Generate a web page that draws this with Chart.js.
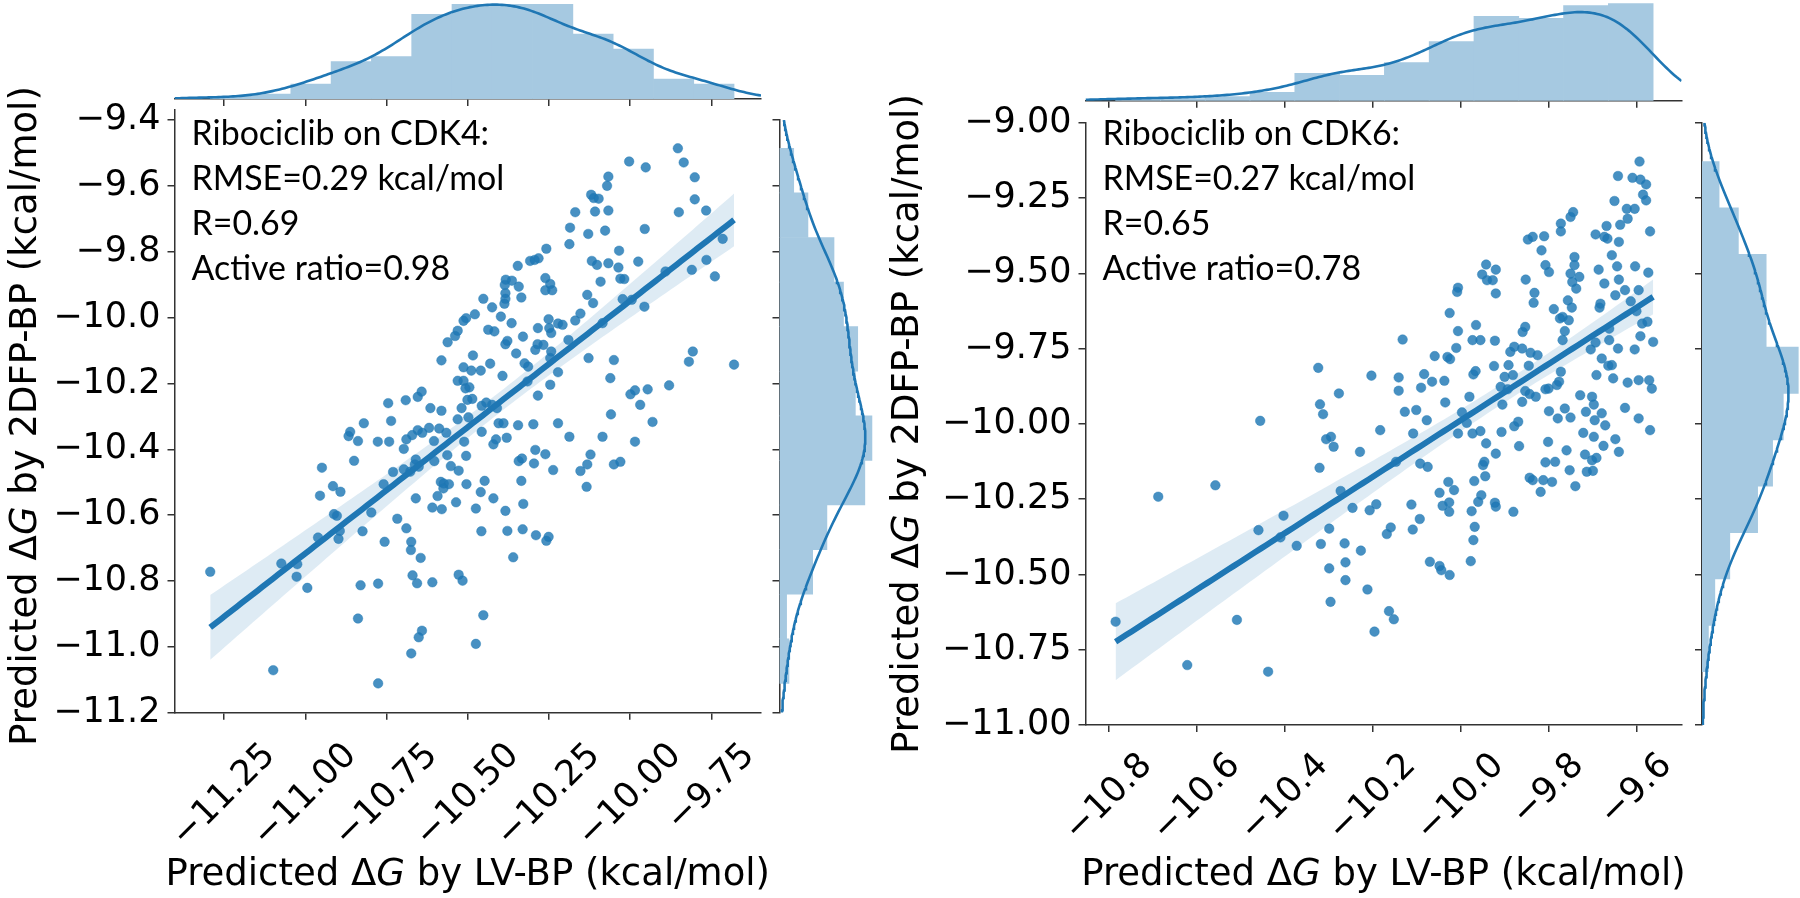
<!DOCTYPE html>
<html>
<head>
<meta charset="utf-8">
<script src="https://cdn.jsdelivr.net/npm/chart.js@4.4.1/dist/chart.umd.min.js"></script>
<style>
html,body{margin:0;padding:0;background:#fff;}
body{width:1800px;height:898px;position:relative;overflow:hidden;}
canvas{position:absolute;left:0;top:0;}
</style>
</head>
<body>
<canvas id="mainL" width="1800" height="898"></canvas>
<canvas id="topL" width="1800" height="898"></canvas>
<canvas id="sideL" width="1800" height="898"></canvas>
<canvas id="mainR" width="1800" height="898"></canvas>
<canvas id="topR" width="1800" height="898"></canvas>
<canvas id="sideR" width="1800" height="898"></canvas>
<script>
// CDK4 panel: predicted dG by LV-BP (x) vs 2DFP-BP (y)
const cdk4X=[
 -9.853,-10.003,-9.952,-9.835,-10.067,-10.071,-9.801,-10.120,-10.112,-10.097,
 -9.801,-10.169,-10.108,-10.067,-9.850,-9.766,-10.185,-10.129,-10.077,-9.955,
 -9.715,-10.187,-10.258,-10.282,-10.308,-10.294,-10.346,-10.034,-10.118,-10.102,
 -10.067,-10.036,-9.975,-9.765,-9.810,-9.739,-9.891,-10.383,-10.364,-10.386,
 -10.343,-10.261,-10.246,-10.261,-10.240,-10.091,-10.030,-10.018,-10.384,-10.335,
 -10.384,-10.387,-10.452,-10.425,-10.132,-10.114,-10.023,-9.995,-9.956,-10.478,
 -10.505,-10.513,-10.398,-10.251,-10.222,-10.208,-10.169,-10.153,-10.365,-10.437,
 -10.418,-10.284,-10.249,-10.243,-10.085,-10.531,-10.539,-10.562,-10.330,-10.378,
 -10.384,-10.190,-10.285,-10.267,-10.292,-10.243,-10.581,-10.484,-10.431,-10.351,
 -10.325,-10.314,-10.246,-10.128,-10.050,-9.807,-9.819,-9.680,-10.513,-10.489,
 -10.460,-10.393,-10.222,-10.531,-10.513,-10.507,-10.495,-10.316,-10.246,-10.061,
 -9.880,-9.985,-9.999,-9.946,-10.642,-10.654,-10.691,-10.745,-10.284,-10.501,
 -10.486,-10.615,-10.581,-10.519,-10.443,-10.425,-10.457,-10.410,-9.969,-10.059,
 -10.531,-10.498,-10.736,-10.820,-10.862,-10.867,-10.838,-10.777,-10.742,-10.654,
 -10.671,-10.640,-10.619,-10.588,-10.566,-10.689,-10.604,-10.697,-10.457,-10.405,
 -10.390,-10.345,-10.298,-10.222,-9.931,-10.413,-10.421,-10.380,-10.511,-10.187,
 -10.085,-9.985,-10.850,-10.660,-10.663,-10.651,-10.603,-10.563,-10.505,-10.552,
 -10.528,-10.343,-10.333,-10.296,-10.292,-10.261,-10.237,-10.153,-10.132,-10.122,
 -10.050,-10.030,-10.949,-10.730,-10.697,-10.677,-10.759,-10.915,-10.892,-10.955,
 -10.583,-10.574,-10.558,-10.575,-10.504,-10.448,-10.460,-10.421,-10.335,-10.134,
 -10.660,-10.593,-10.536,-10.609,-10.580,-10.475,-10.384,-10.329,-10.912,-10.903,
 -10.797,-10.717,-10.689,-10.824,-10.894,-10.961,-10.898,-10.756,-10.674,-10.675,
 -10.645,-10.458,-10.378,-10.331,-10.290,-10.251,-10.258,-10.360,-11.074,-11.025,
 -11.027,-10.994,-11.293,-10.830,-10.776,-10.670,-10.656,-10.609,-10.528,-10.516,
 -10.838,-10.452,-10.641,-10.651,-10.674,-10.475,-11.099,-10.776
];
const cdk4Y=[
 -9.486,-9.526,-9.544,-9.529,-9.572,-9.600,-9.574,-9.627,-9.637,-9.639,
 -9.641,-9.680,-9.678,-9.675,-9.680,-9.675,-9.727,-9.746,-9.736,-9.731,
 -9.761,-9.777,-9.791,-9.820,-9.828,-9.825,-9.843,-9.797,-9.828,-9.840,
 -9.835,-9.848,-9.830,-9.825,-9.855,-9.875,-9.860,-9.885,-9.888,-9.901,
 -9.906,-9.880,-9.898,-9.917,-9.917,-9.891,-9.882,-9.883,-9.926,-9.939,
 -9.943,-9.958,-9.943,-9.969,-9.931,-9.956,-9.944,-9.946,-9.967,-9.990,
 -10.002,-10.010,-9.997,-10.005,-10.018,-10.022,-10.009,-9.988,-10.017,-10.037,
 -10.042,-10.032,-10.032,-10.047,-10.017,-10.040,-10.056,-10.075,-10.058,-10.071,
 -10.081,-10.068,-10.081,-10.083,-10.098,-10.103,-10.130,-10.115,-10.140,-10.109,
 -10.139,-10.149,-10.123,-10.123,-10.129,-10.103,-10.134,-10.143,-10.151,-10.161,
 -10.161,-10.177,-10.166,-10.192,-10.192,-10.215,-10.212,-10.194,-10.204,-10.184,
 -10.206,-10.221,-10.233,-10.218,-10.225,-10.241,-10.251,-10.260,-10.237,-10.250,
 -10.247,-10.275,-10.283,-10.275,-10.258,-10.265,-10.268,-10.275,-10.265,-10.294,
 -10.309,-10.303,-10.314,-10.321,-10.347,-10.360,-10.375,-10.377,-10.377,-10.342,
 -10.357,-10.350,-10.335,-10.337,-10.350,-10.370,-10.375,-10.399,-10.347,-10.321,
 -10.321,-10.327,-10.324,-10.321,-10.317,-10.370,-10.385,-10.365,-10.377,-10.362,
 -10.362,-10.377,-10.435,-10.431,-10.446,-10.453,-10.436,-10.418,-10.420,-10.451,
 -10.465,-10.436,-10.428,-10.443,-10.402,-10.415,-10.463,-10.466,-10.446,-10.416,
 -10.446,-10.438,-10.456,-10.469,-10.461,-10.468,-10.506,-10.512,-10.529,-10.541,
 -10.499,-10.504,-10.506,-10.519,-10.506,-10.496,-10.530,-10.549,-10.496,-10.514,
 -10.549,-10.542,-10.561,-10.577,-10.582,-10.580,-10.587,-10.566,-10.597,-10.602,
 -10.592,-10.611,-10.640,-10.649,-10.648,-10.668,-10.672,-10.681,-10.681,-10.706,
 -10.730,-10.649,-10.648,-10.643,-10.661,-10.666,-10.678,-10.728,-10.747,-10.749,
 -10.787,-10.821,-10.772,-10.813,-10.808,-10.783,-10.807,-10.804,-10.781,-10.799,
 -10.914,-10.904,-10.951,-10.971,-11.020,-10.991,-11.071,-11.111
];
// CDK6 panel
const cdk6X=[
 -9.593,-9.642,-9.609,-9.591,-9.578,-9.585,-9.578,-9.650,-9.622,-9.604,
 -9.744,-9.750,-9.772,-9.772,-9.620,-9.637,-9.668,-9.569,-9.693,-9.673,
 -9.666,-9.640,-9.847,-9.836,-9.810,-9.816,-9.656,-9.741,-9.741,-9.644,
 -9.603,-9.573,-9.686,-9.942,-9.920,-9.951,-9.940,-9.927,-9.807,-9.799,
 -9.750,-9.730,-9.746,-9.737,-9.640,-9.673,-9.852,-9.920,-10.006,-10.008,
 -9.832,-9.834,-9.626,-9.648,-9.595,-9.613,-9.756,-9.747,-9.788,-9.684,
 -9.682,-9.600,-10.025,-9.768,-9.774,-9.754,-9.587,-9.575,-9.965,-10.006,
 -9.853,-9.859,-9.763,-9.591,-9.662,-10.132,-9.973,-9.955,-9.922,-9.768,
 -9.662,-9.562,-10.010,-9.878,-9.860,-9.693,-9.704,-9.642,-9.604,-9.887,
 -9.841,-9.825,-10.059,-10.030,-10.024,-9.891,-9.924,-9.845,-9.679,-9.664,
 -9.656,-9.772,-9.966,-9.971,-10.324,-10.203,-10.141,-10.083,-10.065,-10.037,
 -9.900,-9.881,-9.776,-9.781,-9.691,-9.653,-9.620,-9.595,-9.571,-9.565,
 -10.141,-10.090,-9.909,-9.893,-9.853,-9.807,-9.800,-9.843,-9.829,-10.277,
 -9.980,-9.728,-9.701,-10.320,-10.313,-10.035,-9.905,-9.860,-9.697,-9.799,
 -9.763,-9.715,-9.679,-9.626,-10.127,-10.101,-9.997,-10.456,-10.077,-9.869,
 -9.779,-9.750,-9.695,-9.595,
 -9.986,-9.878,-9.671,-9.569,-10.183,-10.108,-10.006,-9.973,-9.955,-9.907,
 -9.721,-9.697,-10.306,-10.295,-10.289,-10.229,-9.942,-9.867,-9.920,-9.801,
 -9.759,-9.717,-9.675,-9.648,-9.640,-10.321,-10.147,-10.092,-10.075,-9.949,
 -9.946,-9.944,-9.807,-9.785,-9.752,-9.701,-9.691,-9.713,-9.699,-9.843,
 -9.836,-9.812,-9.792,-9.818,-9.739,-9.969,-10.028,-10.048,-10.015,-10.273,
 -10.558,-10.688,-9.953,-9.960,-10.026,-10.041,-10.026,-9.975,-9.922,-9.920,
 -9.880,-10.112,-10.192,-10.207,-10.246,-10.403,-10.093,-10.159,-10.168,-10.109,
 -9.968,-9.971,-10.460,-10.410,-10.299,-10.373,-10.318,-10.264,-10.227,-10.262,
 -10.299,-10.262,-10.212,-10.296,-10.070,-10.048,-10.044,-10.025,-9.977,-10.163,
 -10.152,-10.196,-10.785,-10.509,-10.622,-10.438
];
const cdk6Y=[
 -9.129,-9.177,-9.183,-9.189,-9.205,-9.239,-9.258,-9.260,-9.286,-9.286,
 -9.297,-9.313,-9.335,-9.361,-9.319,-9.339,-9.343,-9.361,-9.371,-9.379,
 -9.385,-9.396,-9.388,-9.379,-9.377,-9.424,-9.440,-9.446,-9.473,-9.477,
 -9.477,-9.498,-9.488,-9.471,-9.488,-9.504,-9.523,-9.523,-9.473,-9.496,
 -9.501,-9.512,-9.529,-9.551,-9.521,-9.534,-9.521,-9.567,-9.548,-9.562,
 -9.565,-9.598,-9.556,-9.573,-9.556,-9.593,-9.590,-9.614,-9.619,-9.614,
 -9.601,-9.626,-9.632,-9.645,-9.650,-9.656,-9.667,-9.661,-9.672,-9.692,
 -9.678,-9.695,-9.692,-9.709,-9.684,-9.720,-9.722,-9.722,-9.724,-9.722,
 -9.722,-9.728,-9.748,-9.744,-9.750,-9.730,-9.753,-9.750,-9.753,-9.761,
 -9.764,-9.772,-9.775,-9.778,-9.785,-9.805,-9.808,-9.807,-9.783,-9.807,
 -9.805,-9.827,-9.825,-9.836,-9.814,-9.840,-9.846,-9.835,-9.860,-9.857,
 -9.844,-9.838,-9.860,-9.871,-9.838,-9.849,-9.863,-9.855,-9.855,-9.883,
 -9.890,-9.880,-9.877,-9.885,-9.891,-9.885,-9.883,-9.901,-9.910,-9.899,
 -9.910,-9.905,-9.910,-9.935,-9.968,-9.929,-9.936,-9.927,-9.936,-9.958,
 -9.949,-9.960,-9.965,-9.947,-9.960,-9.954,-9.962,-9.990,-9.988,-9.993,
 -9.982,-9.979,-9.988,-9.982,
 -9.997,-10.008,-10.005,-10.021,-10.021,-10.032,-10.032,-10.032,-10.024,-10.027,
 -10.030,-10.043,-10.051,-10.043,-10.076,-10.093,-10.065,-10.074,-10.099,-10.060,
 -10.088,-10.102,-10.073,-10.051,-10.093,-10.146,-10.126,-10.132,-10.143,-10.137,
 -10.126,-10.174,-10.128,-10.126,-10.154,-10.121,-10.113,-10.159,-10.156,-10.179,
 -10.187,-10.187,-10.193,-10.226,-10.207,-10.190,-10.193,-10.229,-10.220,-10.223,
 -10.204,-10.242,-10.237,-10.259,-10.261,-10.272,-10.292,-10.290,-10.262,-10.275,
 -10.292,-10.268,-10.267,-10.287,-10.279,-10.305,-10.316,-10.344,-10.366,-10.351,
 -10.342,-10.386,-10.353,-10.377,-10.348,-10.405,-10.399,-10.397,-10.421,-10.460,
 -10.480,-10.519,-10.550,-10.591,-10.458,-10.472,-10.486,-10.502,-10.456,-10.622,
 -10.649,-10.690,-10.657,-10.651,-10.801,-10.823
];
// marginal histogram counts (bins run from data min to data max)
const cdk4XHist=[1,2,6,15,17,34,38,38,38,26,20,8,6];
const cdk4YHist=[4,3,14,20,36,39,32,33,27,23,12,6];
const cdk6XHist=[1,1,2,4,13,12,18,28,40,39,45,46];
const cdk6YHist=[3,6,13,26,33,38,45,30,30,17,8];
// ticks
const cdk4XTicks=[-11.25,-11.00,-10.75,-10.50,-10.25,-10.00,-9.75];
const cdk4XLabels=['−11.25','−11.00','−10.75','−10.50','−10.25','−10.00','−9.75'];
const cdk4YTicks=[-9.4,-9.6,-9.8,-10.0,-10.2,-10.4,-10.6,-10.8,-11.0,-11.2];
const cdk4YLabels=['−9.4','−9.6','−9.8','−10.0','−10.2','−10.4','−10.6','−10.8','−11.0','−11.2'];
const cdk6XTicks=[-10.8,-10.6,-10.4,-10.2,-10.0,-9.8,-9.6];
const cdk6XLabels=['−10.8','−10.6','−10.4','−10.2','−10.0','−9.8','−9.6'];
const cdk6YTicks=[-9.00,-9.25,-9.50,-9.75,-10.00,-10.25,-10.50,-10.75,-11.00];
const cdk6YLabels=['−9.00','−9.25','−9.50','−9.75','−10.00','−10.25','−10.50','−10.75','−11.00'];
const cdk4Note=['Ribociclib on CDK4:','RMSE=0.29 kcal/mol','R=0.69','Active ratio=0.98'];
const cdk6Note=['Ribociclib on CDK6:','RMSE=0.27 kcal/mol','R=0.65','Active ratio=0.78'];
const xTitle=[{t:'Predicted Δ'},{t:'G',it:true},{t:' by LV-BP (kcal/mol)'}];
const yTitle=[{t:'Predicted Δ'},{t:'G',it:true},{t:' by 2DFP-BP (kcal/mol)'}];

const W=1800, H=898;
const BLUE='#1f77b4', BAR='rgb(166,201,225)', DOT='rgba(31,119,180,0.82)', BAND='rgba(31,119,180,0.15)';
const TICKPX=35, TITLEPX=37;
Chart.defaults.font.family='"DejaVu Sans"';

function tickGrid(){
  return {display:true, drawOnChartArea:false, drawTicks:true, tickLength:7, color:'#333', lineWidth:1.5, offset:false};
}
const spine={display:true, color:'#333', width:1.5};

function fitLine(xs, ys){
  const n=xs.length;
  const mx=xs.reduce((a,b)=>a+b,0)/n, my=ys.reduce((a,b)=>a+b,0)/n;
  let sxx=0, sxy=0;
  for(let i=0;i<n;i++){ sxx+=(xs[i]-mx)**2; sxy+=(xs[i]-mx)*(ys[i]-my); }
  const b=sxy/sxx, a=my-b*mx;
  let sse=0;
  for(let i=0;i<n;i++) sse+=(ys[i]-a-b*xs[i])**2;
  const s2=sse/(n-2);
  const lo=Math.min(...xs), hi=Math.max(...xs);
  const line=[], low=[], up=[];
  for(let k=0;k<=100;k++){
    const x=lo+(hi-lo)*k/100, yh=a+b*x;
    const se=Math.sqrt(s2*(1/n+(x-mx)**2/sxx));
    line.push({x, y:yh}); low.push({x, y:yh-1.97*se}); up.push({x, y:yh+1.97*se});
  }
  return {line, low, up};
}

function kde(vals, lo, hi, scale){
  const n=vals.length;
  const m=vals.reduce((a,b)=>a+b,0)/n;
  const sd=Math.sqrt(vals.reduce((a,b)=>a+(b-m)**2,0)/(n-1));
  const bw=sd*Math.pow(n,-0.2);
  const out=[];
  for(let i=0;i<=240;i++){
    const v=lo+(hi-lo)*i/240;
    let s=0;
    for(const d of vals){ const z=(v-d)/bw; s+=Math.exp(-0.5*z*z); }
    out.push({v, d:s/(n*bw*Math.sqrt(2*Math.PI))*scale});
  }
  return out;
}

function drawTitle(ctx, segs, x, y, rot){
  const fonts=segs.map(s=>(s.it?'italic ':'')+TITLEPX+'px "DejaVu Sans"');
  let total=0;
  const ws=segs.map((s,i)=>{ ctx.font=fonts[i]; const w=ctx.measureText(s.t).width; total+=w; return w; });
  ctx.save();
  ctx.translate(x,y); ctx.rotate(rot);
  ctx.textAlign='left'; ctx.textBaseline='alphabetic';
  let cx=-total/2;
  segs.forEach((s,i)=>{ ctx.font=fonts[i]; ctx.fillText(s.t,cx,0); cx+=ws[i]; });
  ctx.restore();
}

function jointText(p){
  return {
    id:'jointText',
    afterDraw(chart){
      const ctx=chart.ctx, ca=chart.chartArea, xs=chart.scales.x;
      ctx.save();
      ctx.fillStyle='#000';
      ctx.font='100px Lato';
      const size=100*313/ctx.measureText(p.note[1]).width;
      ctx.font=size+'px Lato';
      ctx.textAlign='left'; ctx.textBaseline='alphabetic';
      p.note.forEach((t,i)=>ctx.fillText(t, ca.left+17, 144.5+i*45));
      ctx.font=TICKPX+'px "DejaVu Sans"';
      p.xTicks.forEach((v,i)=>{
        const lab=p.xLabels[i], w=ctx.measureText(lab).width, h=TICKPX*0.73;
        const half=(w+h)*Math.SQRT1_2/2;
        ctx.save();
        ctx.translate(xs.getPixelForValue(v), p.labTop+half);
        ctx.rotate(-Math.PI/4);
        ctx.textAlign='center'; ctx.textBaseline='middle';
        ctx.fillText(lab,0,0);
        ctx.restore();
      });
      drawTitle(ctx, xTitle, (ca.left+ca.right)/2, 885, 0);
      drawTitle(ctx, yTitle, p.yTitleX, p.yTitleY, -Math.PI/2);
      ctx.restore();
    }
  };
}

function mainChart(id, p){
  const fit=fitLine(p.xs, p.ys);
  const pts=p.xs.map((x,i)=>({x, y:p.ys[i]}));
  new Chart(document.getElementById(id), {
    type:'scatter',
    data:{datasets:[
      {data:fit.line, showLine:true, borderColor:BLUE, borderWidth:6, pointRadius:0, order:1},
      {data:fit.low, showLine:true, borderWidth:0, borderColor:'rgba(0,0,0,0)', pointRadius:0, fill:false, order:2},
      {data:fit.up, showLine:true, borderWidth:0, borderColor:'rgba(0,0,0,0)', pointRadius:0, fill:'-1', backgroundColor:BAND, order:2},
      {data:pts, pointRadius:4.8, backgroundColor:DOT, borderColor:DOT, pointBorderWidth:0.5, order:3}
    ]},
    options:{
      responsive:false, animation:false, devicePixelRatio:1,
      layout:{padding:{left:0, right:W-p.area.r, top:p.area.t, bottom:H-p.area.b-10}},
      plugins:{legend:{display:false}, tooltip:{enabled:false}},
      scales:{
        x:{type:'linear', position:'bottom', min:p.xMin, max:p.xMax,
           afterBuildTicks:s=>{ s.ticks=p.xTicks.map(v=>({value:v})); },
           ticks:{display:false}, grid:tickGrid(), border:spine,
           afterFit:s=>{ s.height=10; }},
        y:{type:'linear', position:'left', min:p.yMin, max:p.yMax,
           afterBuildTicks:s=>{ s.ticks=p.yTicks.map(v=>({value:v})); },
           ticks:{display:true, autoSkip:false, padding:7, color:'#000', font:{size:TICKPX}, callback:(v,i)=>p.yLabels[i]},
           grid:tickGrid(), border:spine,
           afterFit:s=>{ s.width=p.area.l; }}
      }
    },
    plugins:[jointText(p)]
  });
}

function topMarg(id, p){
  const lo=Math.min(...p.vals), hi=Math.max(...p.vals), w=(hi-lo)/p.counts.length;
  const bars=p.counts.map((c,i)=>({x:lo+(i+0.5)*w, y:c}));
  const curve=kde(p.vals, p.min, p.max, p.vals.length*w).map(q=>({x:q.v, y:q.d}));
  new Chart(document.getElementById(id), {
    type:'bar',
    data:{datasets:[
      {type:'line', data:curve, borderColor:BLUE, borderWidth:2.6, pointRadius:0, order:1},
      {type:'bar', data:bars, backgroundColor:BAR, borderWidth:0, barPercentage:1, categoryPercentage:1, order:2}
    ]},
    options:{
      responsive:false, animation:false, devicePixelRatio:1,
      layout:{padding:{left:p.area.l, right:W-p.area.r, top:p.area.t, bottom:H-p.area.b-7}},
      plugins:{legend:{display:false}, tooltip:{enabled:false}},
      scales:{
        x:{type:'linear', position:'bottom', min:p.min, max:p.max, offset:false,
           afterBuildTicks:s=>{ s.ticks=p.ticks.map(v=>({value:v})); },
           ticks:{display:false}, grid:tickGrid(), border:spine,
           afterFit:s=>{ s.height=7; }},
        y:{type:'linear', display:false, min:0, max:p.cmax}
      }
    }
  });
}

function sideMarg(id, p){
  const lo=Math.min(...p.vals), hi=Math.max(...p.vals), w=(hi-lo)/p.counts.length;
  const bars=p.counts.map((c,i)=>({x:c, y:lo+(i+0.5)*w}));
  const curve=kde(p.vals, p.min, p.max, p.vals.length*w).map(q=>({x:q.d, y:q.v}));
  new Chart(document.getElementById(id), {
    type:'bar',
    data:{datasets:[
      {type:'line', data:curve, borderColor:BLUE, borderWidth:2.6, pointRadius:0, order:1},
      {type:'bar', data:bars, backgroundColor:BAR, borderWidth:0, barPercentage:1, categoryPercentage:1, order:2}
    ]},
    options:{
      indexAxis:'y',
      responsive:false, animation:false, devicePixelRatio:1,
      layout:{padding:{left:p.area.l-7, right:W-p.area.r, top:p.area.t, bottom:H-p.area.b}},
      plugins:{legend:{display:false}, tooltip:{enabled:false}},
      scales:{
        y:{type:'linear', position:'left', min:p.min, max:p.max, offset:false,
           afterBuildTicks:s=>{ s.ticks=p.ticks.map(v=>({value:v})); },
           ticks:{display:false}, grid:tickGrid(), border:spine,
           afterFit:s=>{ s.width=7; }},
        x:{type:'linear', display:false, min:0, max:p.cmax}
      }
    }
  });
}

const areaL={l:174.5, r:761, t:109.3, b:712.7};
const areaR={l:1085.5, r:1681.5, t:122.7, b:725};

mainChart('mainL', {xs:cdk4X, ys:cdk4Y, area:areaL, xMin:-11.403, xMax:-9.597, yMin:-11.2, yMax:-9.3675,
  xTicks:cdk4XTicks, xLabels:cdk4XLabels, yTicks:cdk4YTicks, yLabels:cdk4YLabels, note:cdk4Note,
  yTitleX:36, yTitleY:416, labTop:741});
mainChart('mainR', {xs:cdk6X, ys:cdk6Y, area:areaR, xMin:-10.8535, xMax:-9.4975, yMin:-11.0, yMax:-9.0,
  xTicks:cdk6XTicks, xLabels:cdk6XLabels, yTicks:cdk6YTicks, yLabels:cdk6YLabels, note:cdk6Note,
  yTitleX:918, yTitleY:424, labTop:751});
topMarg('topL', {vals:cdk4X, counts:cdk4XHist, area:{l:174.5, r:761, t:0, b:99}, min:-11.403, max:-9.597, cmax:39.7, ticks:cdk4XTicks});
topMarg('topR', {vals:cdk6X, counts:cdk6XHist, area:{l:1085.5, r:1681.5, t:0, b:100.7}, min:-10.8535, max:-9.4975, cmax:47.7, ticks:cdk6XTicks});
sideMarg('sideL', {vals:cdk4Y, counts:cdk4YHist, area:{l:779.5, r:880, t:120, b:712.7}, min:-11.2, max:-9.4, cmax:42.4, ticks:cdk4YTicks});
sideMarg('sideR', {vals:cdk6Y, counts:cdk6YHist, area:{l:1702, r:1800, t:122.7, b:725}, min:-11.0, max:-9.0, cmax:45.8, ticks:cdk6YTicks});
</script>
</body>
</html>
